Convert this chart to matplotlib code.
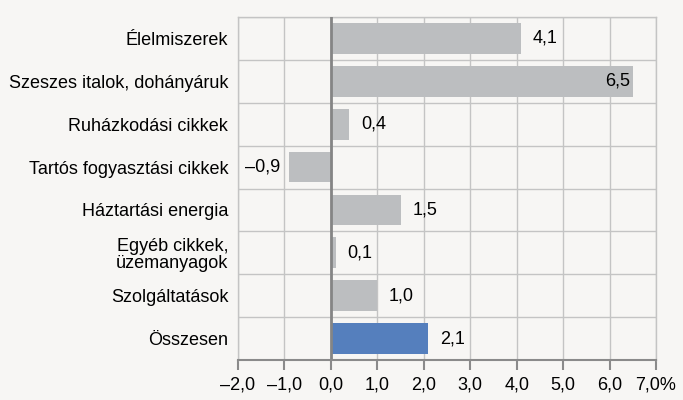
import matplotlib.pyplot as plt
import numpy as np

plt.rcParams['font.family'] = ['Liberation Sans', 'DejaVu Sans']

categories = ['Élelmiszerek', 'Szeszes italok, dohányáruk', 'Ruházkodási cikkek',
              'Tartós fogyasztási cikkek', 'Háztartási energia',
              'Egyéb cikkek,\nüzemanyagok', 'Szolgáltatások', 'Összesen']
values = [4.1, 6.5, 0.4, -0.9, 1.5, 0.1, 1.0, 2.1]
xticks = [-2, -1, 0, 1, 2, 3, 4, 5, 6, 7]
xticklabels = ['–2,0', '–1,0', '0,0', '1,0', '2,0', '3,0', '4,0', '5,0', '6,0', '7,0%']

bg = '#f7f6f4'
grid_c = '#c4c4c4'
colors = ['#bcbec0'] * 7 + ['#557fbd']
fs = 13

fig = plt.figure(figsize=(6.83, 4.0), dpi=100, facecolor=bg)
ax = fig.add_axes([0.3485, 0.1, 0.612, 0.8575], facecolor=bg)

y = np.arange(len(categories))
ax.barh(y, values, height=0.72, color=colors, zorder=3)
ax.set_ylim(len(categories) - 0.5, -0.5)
ax.set_xlim(-2, 7)

for yy in np.arange(-0.5, len(categories), 1.0):
    ax.axhline(yy, color=grid_c, lw=1, zorder=1)
for xx in xticks:
    ax.axvline(xx, color=grid_c, lw=1, zorder=1)
ax.axvline(0, color='#858585', lw=2, zorder=4)

for yy, v in zip(y, values):
    lab = f'{v:.1f}'.replace('.', ',').replace('-', '–')
    if v >= 6:
        ax.text(v - 0.05, yy, lab, ha='right', va='center', fontsize=fs, zorder=5)
    elif v < 0:
        ax.text(v - 0.2, yy, lab, ha='right', va='center', fontsize=fs, zorder=5)
    else:
        ax.text(v + 0.25, yy, lab, ha='left', va='center', fontsize=fs, zorder=5)

ax.set_yticks(y)
ax.set_yticklabels(categories, fontsize=fs, linespacing=1.05)
ax.tick_params(axis='y', length=0, pad=7)
ax.set_xticks(xticks)
ax.set_xticklabels(xticklabels, fontsize=fs)
ax.tick_params(axis='x', length=7, width=1.5, color='#8a8a8a', pad=5, direction='out')

for s in ['top', 'right', 'left']:
    ax.spines[s].set_color(grid_c)
    ax.spines[s].set_linewidth(1)
ax.spines['bottom'].set_color('#8a8a8a')
ax.spines['bottom'].set_linewidth(1.5)
ax.spines['bottom'].set_zorder(5)

fig.savefig('out.png', dpi=100, facecolor=bg)
